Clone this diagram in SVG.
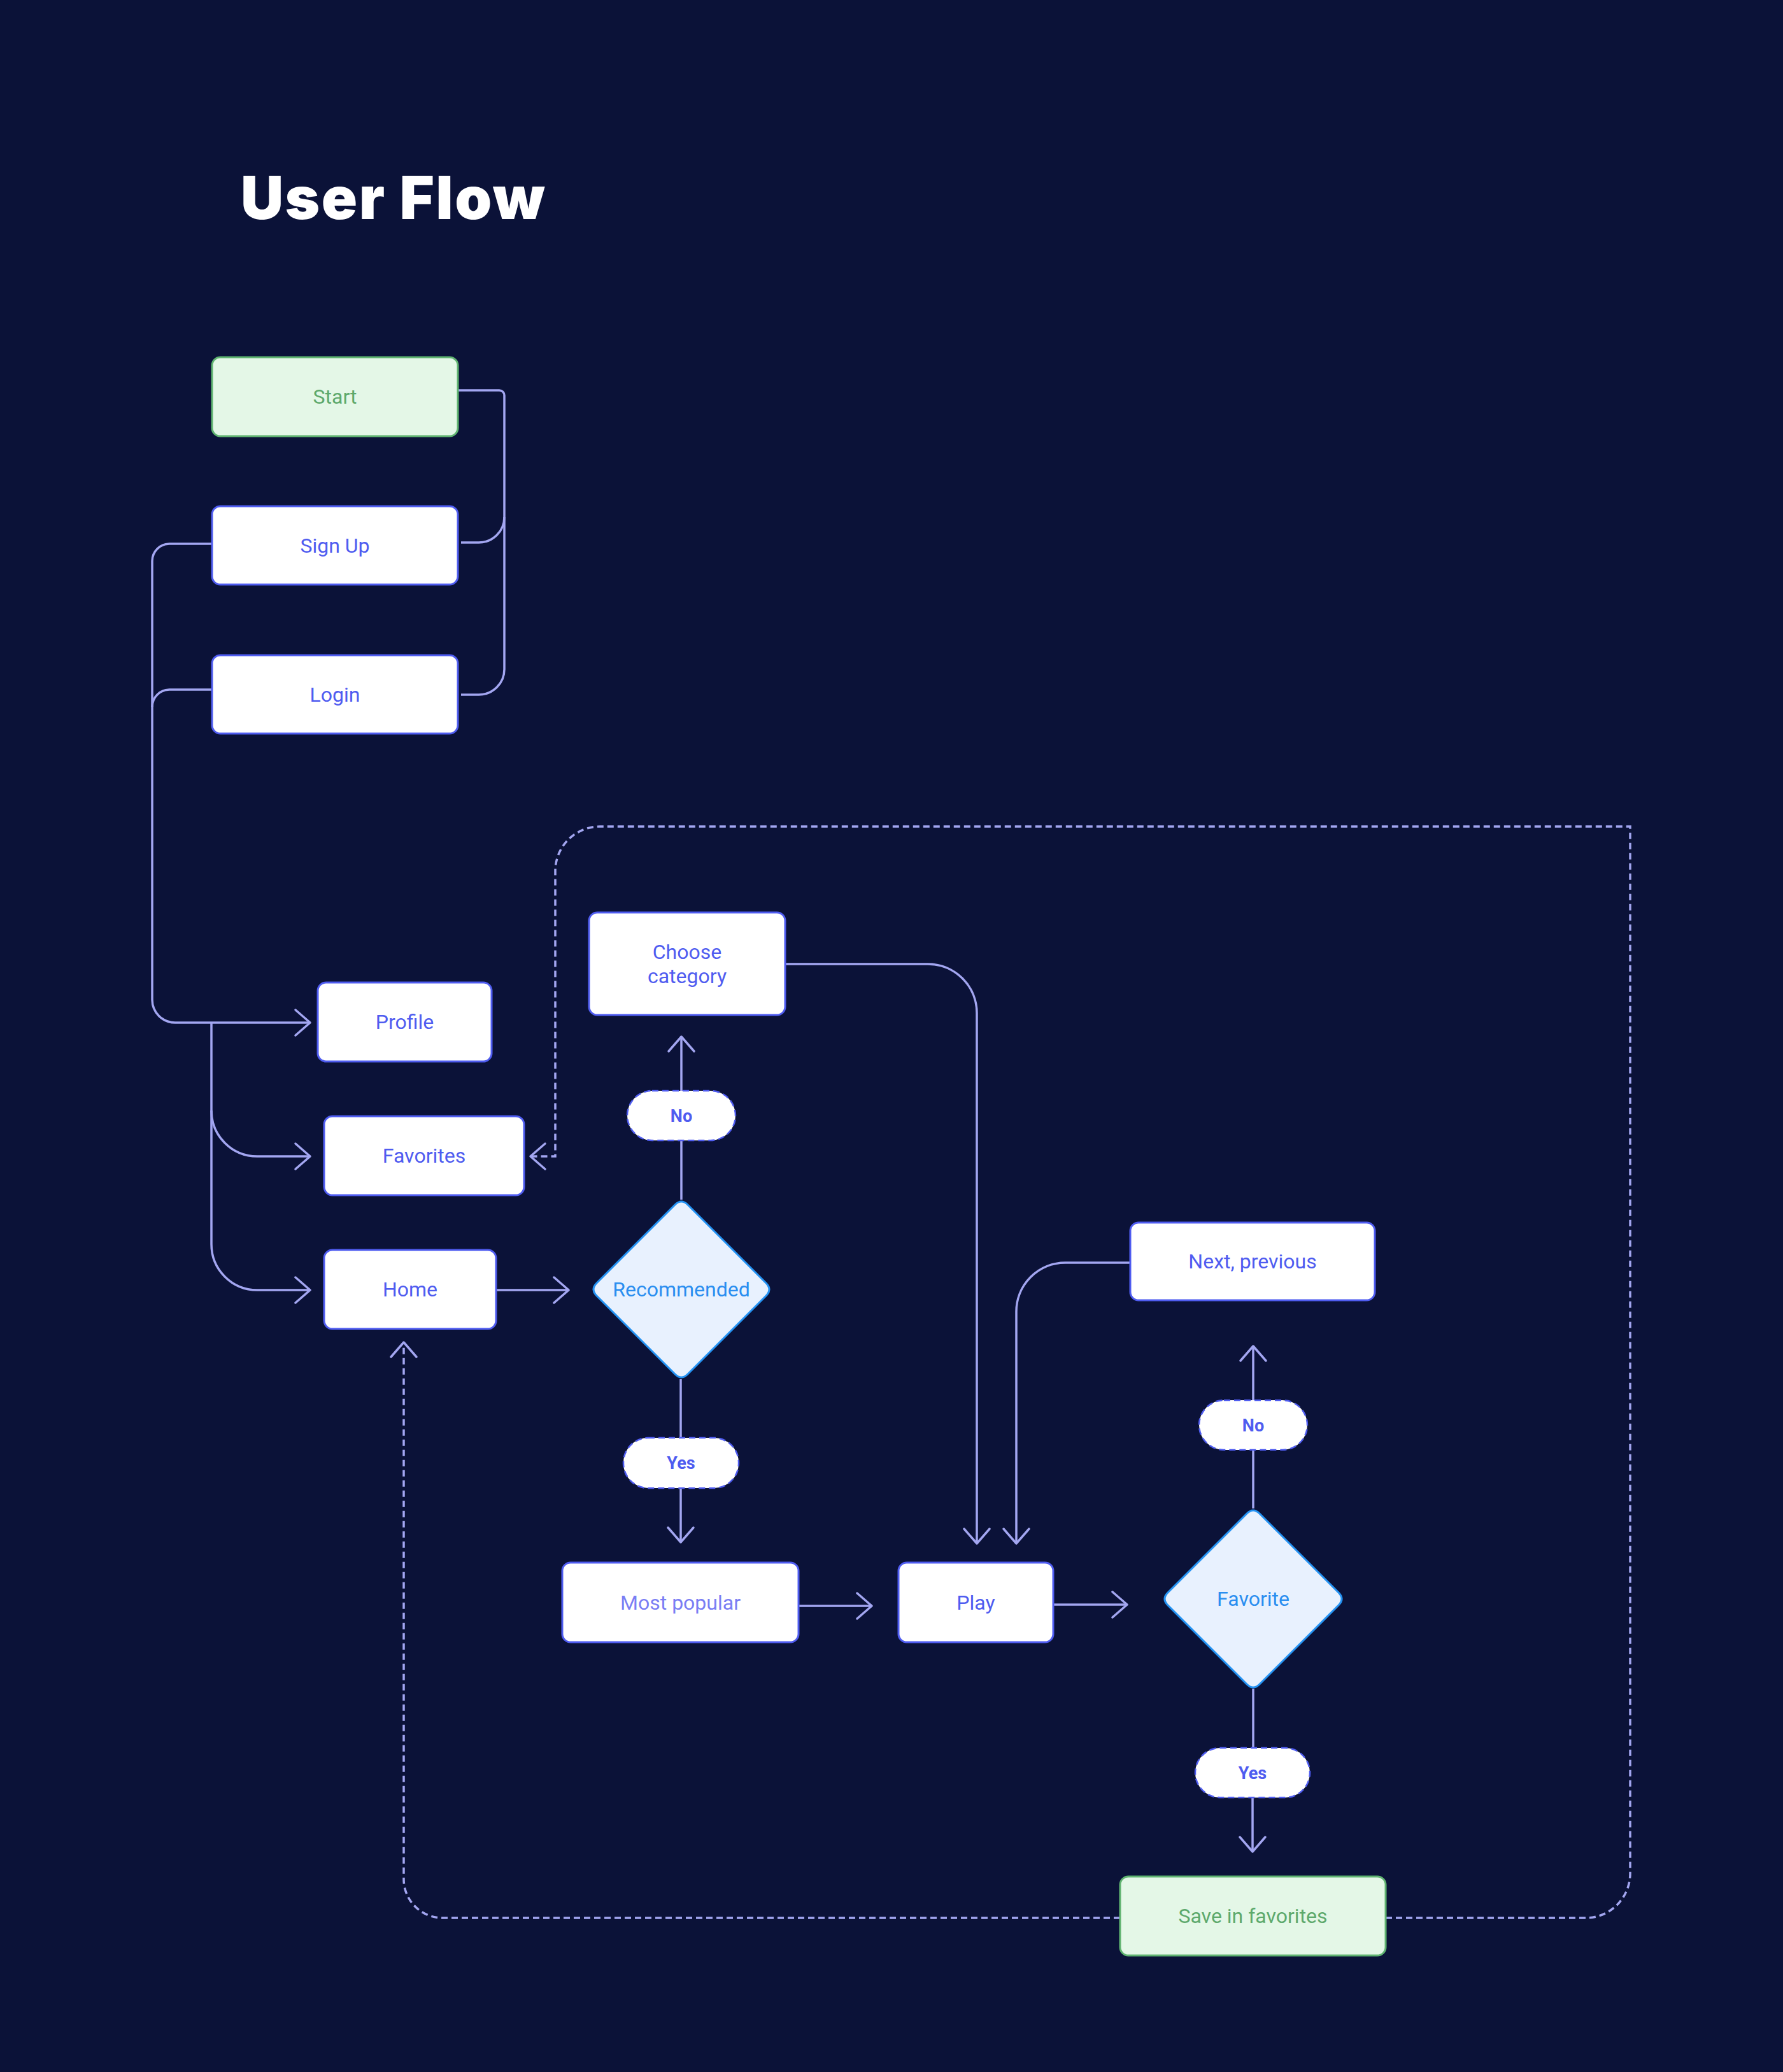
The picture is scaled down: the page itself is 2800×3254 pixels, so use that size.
<svg xmlns="http://www.w3.org/2000/svg" width="2800" height="3254" viewBox="0 0 2800 3254">
<style>
.box{fill:#ffffff;stroke:#4f5cf0;stroke-width:3}
.green{fill:#e4f7e7;stroke:#5fb370;stroke-width:3}
.dia{fill:#e8f1fe;stroke:#2492f2;stroke-width:3}
.pill{fill:#ffffff;stroke:#4f5cf0;stroke-width:2.5;stroke-dasharray:10 6}
.t{font-family:Roboto,"Liberation Sans",sans-serif;font-size:32px;fill:#4f5cf0;text-anchor:middle}
.tg{fill:#5da96c}
.td{fill:#2a8ef0}
.tl{fill:#7a7ef4}
.tp{font-family:Roboto,"Liberation Sans",sans-serif;font-size:27px;font-weight:700;fill:#4f5cf0;text-anchor:middle}
.c{fill:none;stroke:#a3a6f1;stroke-width:3.5}
.cd{fill:none;stroke:#a3a6f1;stroke-width:3.5;stroke-dasharray:10 6}
</style>
<defs>
<marker id="arr" markerUnits="userSpaceOnUse" viewBox="-30 -25 35 50" refX="0" refY="0" markerWidth="35" markerHeight="50" orient="auto">
<path d="M-23,-20 L0,0 L-23,20" fill="none" stroke="#a3a6f1" stroke-width="3.5" stroke-linecap="round" stroke-linejoin="round"/>
</marker>
</defs>
<rect x="0" y="0" width="2800" height="3254" fill="#0b1238"/>
<text x="378" y="344" font-family="Inter,Lato,'Liberation Sans',sans-serif" font-weight="900" font-size="93" letter-spacing="2.5" fill="#ffffff">User Flow</text>

<g id="connectors">
<path class="c" d="M719,613 H784 A8,8 0 0 1 792,621 V1051"/>
<path class="c" d="M724,852 H752 A40,40 0 0 0 792,812"/>
<path class="c" d="M724,1091 H752 A40,40 0 0 0 792,1051"/>
<path class="c" d="M333,854 H266 A27,27 0 0 0 239,881 V1570 A36,36 0 0 0 275,1606 H487" marker-end="url(#arr)"/>
<path class="c" d="M333,1083 H266 A27,27 0 0 0 239,1110"/>
<path class="c" d="M332,1606 V1954 A72,72 0 0 0 404,2026 H487" marker-end="url(#arr)"/>
<path class="c" d="M332,1744 A72,72 0 0 0 404,1816 H487" marker-end="url(#arr)"/>
<path class="c" d="M779,2026 H893" marker-end="url(#arr)"/>
<path class="c" d="M1070,1884 V1791"/>
<path class="c" d="M1070,1713 V1628" marker-end="url(#arr)"/>
<path class="c" d="M1069,2166 V2258"/>
<path class="c" d="M1069,2337 V2422" marker-end="url(#arr)"/>
<path class="c" d="M1233,1514 H1457 A77,77 0 0 1 1534,1591 V2424" marker-end="url(#arr)"/>
<path class="c" d="M1775,1983 H1673 A77,77 0 0 0 1596,2060 V2424" marker-end="url(#arr)"/>
<path class="c" d="M1254,2522 H1369" marker-end="url(#arr)"/>
<path class="c" d="M1654,2520 H1770" marker-end="url(#arr)"/>
<path class="c" d="M1968,2369 V2277"/>
<path class="c" d="M1968,2199 V2114" marker-end="url(#arr)"/>
<path class="c" d="M1968,2652 V2745"/>
<path class="c" d="M1967,2823 V2908" marker-end="url(#arr)"/>
<path class="cd" d="M1759,3012 H695 A61,61 0 0 1 634,2951 V2108" marker-end="url(#arr)"/>
<path class="cd" d="M2176,3012 H2490 A70,70 0 0 0 2560,2942 V1298 H942 A70,70 0 0 0 872,1368 V1816 H833" marker-end="url(#arr)"/>
</g>

<g id="start"><rect class="green" x="333" y="561" width="386" height="124" rx="13"/><text class="t tg" x="526" y="634">Start</text></g>
<g id="signup"><rect class="box" x="333" y="795" width="386" height="123" rx="13"/><text class="t" x="526" y="868">Sign Up</text></g>
<g id="login"><rect class="box" x="333" y="1029" width="386" height="123" rx="13"/><text class="t" x="526" y="1102">Login</text></g>
<g id="profile"><rect class="box" x="499" y="1543" width="273" height="124" rx="13"/><text class="t" x="635.5" y="1616">Profile</text></g>
<g id="favorites"><rect class="box" x="509" y="1753" width="314" height="124" rx="13"/><text class="t" x="666" y="1826">Favorites</text></g>
<g id="home"><rect class="box" x="509" y="1963" width="270" height="124" rx="13"/><text class="t" x="644" y="2036">Home</text></g>
<g id="choose"><rect class="box" x="925" y="1433" width="308" height="161" rx="13"/><text class="t" x="1079" y="1506">Choose</text><text class="t" x="1079" y="1544">category</text></g>
<g id="recommended"><path class="dia" d="M1060,1892 Q1070,1882 1080,1892 L1203,2015 Q1213,2025 1203,2035 L1080,2158 Q1070,2168 1060,2158 L937,2035 Q927,2025 937,2015 Z"/><text class="t td" x="1070" y="2036">Recommended</text></g>
<g id="no1"><rect class="pill" x="985" y="1713" width="170" height="78" rx="39"/><text class="tp" x="1070" y="1762">No</text></g>
<g id="yes1"><rect class="pill" x="979" y="2258" width="181" height="79" rx="39"/><text class="tp" x="1069.5" y="2307">Yes</text></g>
<g id="mostpopular"><rect class="box" x="883" y="2454" width="371" height="125" rx="13"/><text class="t tl" x="1068.5" y="2528">Most popular</text></g>
<g id="play"><rect class="box" x="1411" y="2454" width="243" height="125" rx="13"/><text class="t" x="1532.5" y="2528">Play</text></g>
<g id="nextprev"><rect class="box" x="1775" y="1920" width="384" height="122" rx="13"/><text class="t" x="1967" y="1992">Next, previous</text></g>
<g id="no2"><rect class="pill" x="1883" y="2199" width="170" height="78" rx="39"/><text class="tp" x="1968" y="2248">No</text></g>
<g id="favorite"><path class="dia" d="M1958,2377 Q1968,2367 1978,2377 L2102,2501 Q2112,2511 2102,2521 L1978,2645 Q1968,2655 1958,2645 L1834,2521 Q1824,2511 1834,2501 Z"/><text class="t td" x="1968" y="2522">Favorite</text></g>
<g id="yes2"><rect class="pill" x="1877" y="2745" width="180" height="78" rx="39"/><text class="tp" x="1967" y="2794">Yes</text></g>
<g id="save"><rect class="green" x="1759" y="2947" width="417" height="124" rx="13"/><text class="t tg" x="1967.5" y="3020">Save in favorites</text></g>
</svg>
